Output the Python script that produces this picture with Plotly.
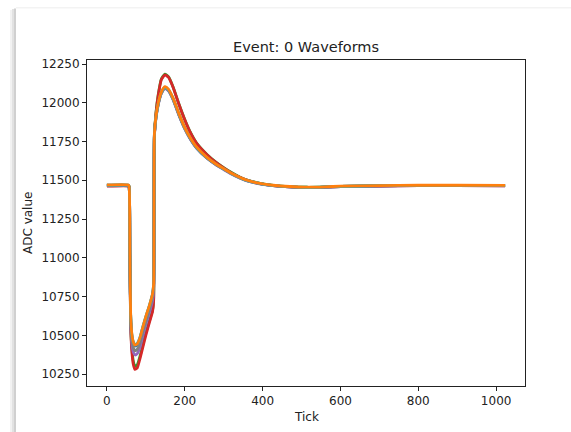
import plotly.graph_objects as go

ticks = [0, 55, 57, 59, 61, 64, 68, 72, 78, 85, 93, 100, 110, 117, 120, 121, 122,
         126, 132, 140, 149, 158, 170, 185, 200, 213, 230, 257, 280, 300, 320, 342,
         360, 380, 400, 427, 470, 514, 560, 600, 700, 800, 900, 1023]

wf_blue = [11468, 11468, 11460, 11040, 10630, 10500, 10450, 10430, 10440, 10480,
           10555, 10615, 10695, 10760, 10825, 11240, 11795, 11905, 11995, 12065,
           12098, 12082, 12025, 11925, 11836, 11775, 11712, 11645, 11603, 11573,
           11543, 11516, 11498, 11485, 11475, 11466, 11458, 11454, 11456, 11460,
           11464, 11466, 11466, 11465]
wf_green = [11466, 11466, 11458, 11010, 10580, 10420, 10330, 10300, 10310, 10365,
            10445, 10515, 10600, 10660, 10730, 11210, 11785, 11935, 12055, 12155,
            12185, 12168, 12102, 11992, 11892, 11817, 11742, 11667, 11617, 11582,
            11550, 11520, 11502, 11488, 11477, 11467, 11459, 11455, 11457, 11461,
            11464, 11466, 11466, 11465]
wf_red = [11462, 11462, 11455, 11000, 10560, 10400, 10310, 10280, 10290, 10350,
          10430, 10500, 10590, 10650, 10720, 11200, 11780, 11930, 12050, 12150,
          12180, 12165, 12100, 11990, 11890, 11815, 11740, 11665, 11615, 11580,
          11548, 11519, 11501, 11487, 11476, 11466, 11458, 11454, 11456, 11460,
          11463, 11465, 11465, 11464]
wf_purple = [11464, 11464, 11457, 11020, 10600, 10450, 10390, 10373, 10382, 10425,
             10505, 10570, 10655, 10720, 10790, 11230, 11790, 11900, 11990, 12060,
             12092, 12077, 12020, 11920, 11832, 11771, 11708, 11642, 11600, 11570,
             11540, 11514, 11496, 11484, 11474, 11465, 11457, 11453, 11455, 11459,
             11463, 11465, 11465, 11464]
wf_gray = [11465, 11465, 11458, 11030, 10615, 10475, 10418, 10400, 10410, 10452,
           10530, 10592, 10675, 10740, 10808, 11240, 11795, 11903, 11992, 12062,
           12095, 12080, 12022, 11922, 11834, 11773, 11710, 11644, 11602, 11572,
           11542, 11515, 11497, 11485, 11475, 11466, 11458, 11454, 11456, 11460,
           11464, 11466, 11466, 11465]
wf_cyan = [11469, 11469, 11461, 11045, 10635, 10505, 10455, 10440, 10448, 10488,
           10562, 10620, 10700, 10765, 10830, 11250, 11800, 11908, 11998, 12068,
           12100, 12085, 12028, 11928, 11838, 11777, 11713, 11646, 11604, 11574,
           11544, 11517, 11499, 11486, 11476, 11467, 11459, 11455, 11457, 11461,
           11465, 11467, 11467, 11466]
wf_orange = [11470, 11470, 11462, 11050, 10640, 10510, 10455, 10437, 10445, 10485,
             10560, 10620, 10700, 10765, 10830, 11250, 11800, 11910, 12000, 12070,
             12104, 12088, 12030, 11930, 11840, 11779, 11715, 11648, 11605, 11575,
             11545, 11518, 11500, 11487, 11477, 11468, 11460, 11456, 11458, 11462,
             11466, 11468, 11468, 11467]

series = [
    (wf_blue, "#1f77b4"),
    (wf_green, "#2ca02c"),
    (wf_red, "#d62728"),
    (wf_purple, "#9467bd"),
    (wf_gray, "#7f7f7f"),
    (wf_cyan, "#17becf"),
    (wf_orange, "#ff7f0e"),
]

x_tickvals = [0, 200, 400, 600, 800, 1000]
y_tickvals = [10250, 10500, 10750, 11000, 11250, 11500, 11750, 12000, 12250]

fig = go.Figure()
for vals, col in series:
    fig.add_trace(go.Scatter(x=ticks, y=vals, mode="lines",
                             line=dict(color=col, width=2.8, shape="spline", smoothing=0.5),
                             showlegend=False, hoverinfo="skip"))

W, H = 571, 432
L, R, T, B = 87, 525, 60, 386
pw, ph = R - L, B - T

def px(xp):
    return (xp - L) / pw

def py(yp):
    return (B - yp) / ph

font = dict(family="DejaVu Sans", size=12, color="#222222")

axis_common = dict(showline=True, linecolor="#222222", linewidth=1, mirror=True,
                   ticks="outside", ticklen=4, tickwidth=1, tickcolor="#222222",
                   showgrid=False, zeroline=False, tickfont=font)

fig.update_layout(
    width=W, height=H,
    margin=dict(l=L, r=W - R, t=T, b=H - B, pad=0),
    paper_bgcolor="white", plot_bgcolor="white",
    xaxis=dict(range=[-51.15, 1074.15], tickvals=x_tickvals, tickformat="d", **axis_common),
    yaxis=dict(range=[10173, 12276], tickvals=y_tickvals, tickformat="d", **axis_common),
    annotations=[
        dict(text="Event: 0 Waveforms", xref="paper", yref="paper",
             x=0.5, y=py(47), xanchor="center", yanchor="middle",
             showarrow=False, font=dict(family="DejaVu Sans", size=14.5, color="#222222")),
        dict(text="Tick", xref="paper", yref="paper", x=0.5, y=py(417),
             xanchor="center", yanchor="middle", showarrow=False, font=font),
        dict(text="ADC value", xref="paper", yref="paper", x=px(28), y=0.5,
             xanchor="center", yanchor="middle", textangle=-90,
             showarrow=False, font=font),
    ],
    shapes=[
        dict(type="rect", xref="paper", yref="paper", x0=px(10), x1=px(12),
             y0=py(432), y1=py(10), fillcolor="#f2f2f2", line=dict(width=0), layer="below"),
        dict(type="rect", xref="paper", yref="paper", x0=px(12), x1=px(14),
             y0=py(432), y1=py(9), fillcolor="#e2e2e2", line=dict(width=0), layer="below"),
        dict(type="rect", xref="paper", yref="paper", x0=px(14), x1=px(16),
             y0=py(432), y1=py(8.5), fillcolor="#d0d0d0", line=dict(width=0), layer="below"),
        dict(type="rect", xref="paper", yref="paper", x0=px(16), x1=px(571),
             y0=py(8.5), y1=py(7), fillcolor="#f3f3f3", line=dict(width=0), layer="below"),
    ],
)

fig.write_html("out.html", config={"displayModeBar": False},
               post_script="document.body.style.margin='0';document.body.style.padding='0';")
